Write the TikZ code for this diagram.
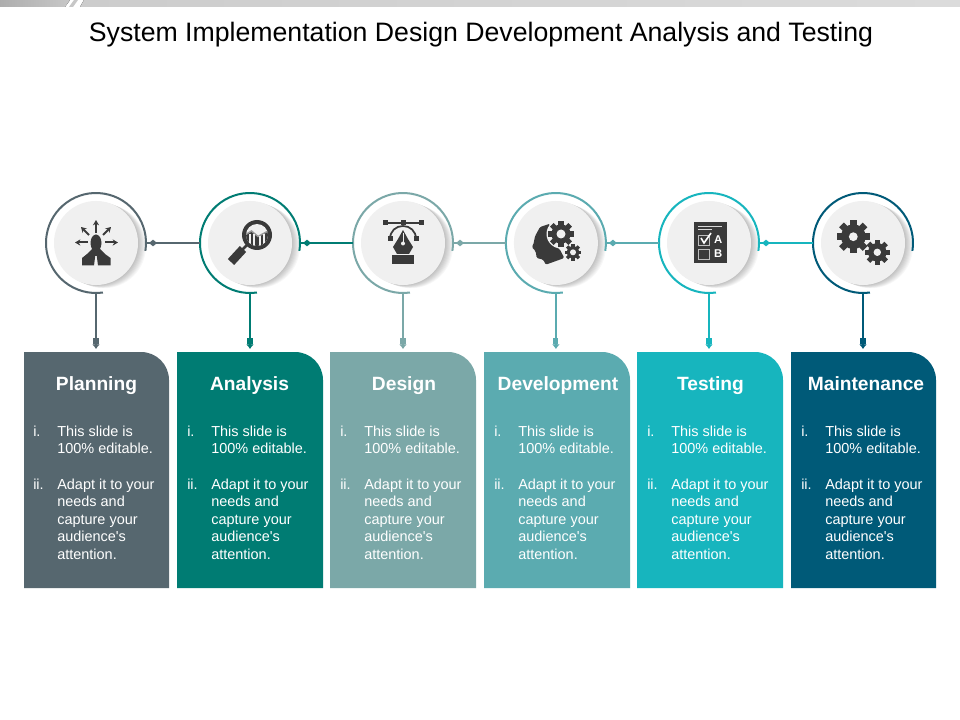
\documentclass[tikz,border=0pt]{standalone}
\usepackage{fontspec}
\setmainfont{Liberation Sans}
\usetikzlibrary{arrows.meta}
\definecolor{cPlan}{HTML}{56676F}
\definecolor{cAna}{HTML}{007C73}
\definecolor{cDes}{HTML}{7BA8A8}
\definecolor{cDev}{HTML}{5BABB0}
\definecolor{cTest}{HTML}{17B5BE}
\definecolor{cMain}{HTML}{005A78}
\definecolor{iconDark}{HTML}{3A3A3A}
\definecolor{discFill}{HTML}{F0F0F0}
\tikzset{
  ringnode/.style={circle,minimum size=75pt,inner sep=0pt,outer sep=0pt},
  discshape/.style={fill=discFill},
  ringarc/.style={line width=1.5pt},
  linkline/.style={line width=1.3pt},
  droparrow/.style={line width=1.3pt,-{Rectangle[length=5pt,width=3.8pt]Latex[length=3.6pt,width=6pt]},shorten >=2.2pt},
  linkmark/.style={line width=2.2pt,-{Diamond[length=6pt,width=5pt]}},
  boxnode/.style={minimum width=109.5pt,minimum height=177pt,inner sep=0pt,outer sep=0pt,anchor=north west},
  headtext/.style={text=white,font=\fontsize{14.4}{17}\selectfont\bfseries,anchor=base,inner sep=0pt},
  bodytext/.style={text=white,font=\fontsize{10.85}{13.2}\selectfont,anchor=base west,inner sep=0pt},
  icon/.style={fill=iconDark},
  iconarrow/.style={draw=iconDark,line width=1.5pt,-{Stealth[length=4pt,width=4.6pt]}},
}
\newcommand{\gearshape}[5]{% x y R hole toothwidth
  \fill[icon] (#1,#2) circle[radius=#3*0.74];
  \foreach \a in {0,45,...,315}
    \draw[iconDark,line width=#5] (#1,#2)++(\a:#3*0.6) -- ++(\a:#3*0.4);
  \fill[discFill] (#1,#2) circle[radius=#4];
}
\begin{document}
\begin{tikzpicture}[x=0.75pt,y=-0.75pt]
\useasboundingbox (0,0) rectangle (960,720);
\fill[white] (0,0) rectangle (960,720);
% top bar
\fill[left color=black!32,right color=black!22] (0,0) -- (70,0) -- (65,7) -- (0,7) -- cycle;
\fill[black!22] (74,0) -- (78,0) -- (73,7) -- (69,7) -- cycle;
\fill[left color=black!20,right color=black!14] (84,0) -- (960,0) -- (960,7) -- (80,7) -- cycle;
\node[inner sep=0pt,font=\fontsize{20}{24}\selectfont,text=black] (title) at (481,34.5) {System Implementation Design Development Analysis and Testing};
% boxes
\foreach \i/\bx/\bw/\hx/\tx/\col/\name in {1/24/145/96.5/57/cPlan/Planning,2/177/146/249.5/211/cAna/Analysis,3/330/146/404/364/cDes/Design,4/484/146/558/518/cDev/Development,5/637/146/710.5/671/cTest/Testing,6/791/145/866/825/cMain/Maintenance}{
  \fill[\col] (\bx,588) -- (\bx,352) [rounded corners=21pt] -- ({\bx+\bw},352) [sharp corners] -- ({\bx+\bw},588) -- cycle;
  \node[boxnode] (box\i) at (\bx,352) {};
  \node[headtext] (head\i) at (\hx,390) {\name};
  \node[bodytext] (la\i) at ({\tx-24},436) {i.};
  \node[bodytext] (ta\i) at (\tx,436) {This slide is};
  \node[bodytext] (tb\i) at (\tx,453.5) {100\% editable.};
  \node[bodytext] (lb\i) at ({\tx-24},489) {ii.};
  \node[bodytext] (tc\i) at (\tx,489) {Adapt it to your};
  \node[bodytext] (td\i) at (\tx,506.5) {needs and};
  \node[bodytext] (te\i) at (\tx,524) {capture your};
  \node[bodytext] (tf\i) at (\tx,541.5) {audience\textquotesingle s};
  \node[bodytext] (tg\i) at (\tx,559) {attention.};
}
% discs and rings
\foreach \i/\cx/\col in {1/96/cPlan,2/250/cAna,3/403/cDes,4/555.9/cDev,5/709/cTest,6/863/cMain}{
  \foreach \o in {1,...,8}
    \fill[black,opacity=0.03] ({\cx+\o*1.0},{243+\o*0.4}) circle[radius=42];
  \fill[discshape] (\cx,243) circle[radius=42];
  \node[ringnode] (r\i) at (\cx,243) {};
  \draw[\col,ringarc] (\cx,243) ++(9:50) arc[start angle=9,end angle=-278,radius=50];
}
% connectors
\foreach \i/\j/\col in {1/2/cPlan,2/3/cAna,3/4/cDes,4/5/cDev,5/6/cTest}{
  \draw[\col,linkline] (r\i.east) -- (r\j.west);
  \draw[\col,linkmark] (r\i.east) -- ++(11,0);
}
\foreach \i/\col in {1/cPlan,2/cAna,3/cDes,4/cDev,5/cTest,6/cMain}{
  \draw[\col,droparrow] (r\i.south) -- (r\i.south |- box\i.north);
}
% icon 1: person with arrows
\draw[iconarrow] (96,233) -- (96,220);
\draw[iconarrow] (88,242.5) -- (75,242.5);
\draw[iconarrow] (105,242.5) -- (118,242.5);
\draw[iconarrow] (89,235) -- (81,227);
\draw[iconarrow] (103,235) -- (111,227);
\fill[icon] (96,243) ellipse[x radius=5.5,y radius=8.5];
\fill[icon] (82,265.5) -- (82,258) -- (87,254) -- (92,249) -- (100,249) -- (105,254) -- (110.5,258) -- (110.5,265.5) -- (98,265.5) -- (96.8,256) -- (95.2,256) -- (94,265.5) -- cycle;
% icon 2: magnifier
\draw[iconDark,line width=2pt] (247,245) -- (241,251);
\draw[iconDark,line width=6.5pt] (243,249) -- (231,262);
\fill[icon] (257,235) circle[radius=15];
\begin{scope}
  \clip (257,235) circle[radius=11];
  \fill[discFill] (244,222) rectangle (270,248);
  \fill[icon] (244,248) -- (244,235) -- (251.5,231) -- (258,236.5) -- (268,231) -- (270,248) -- cycle;
  \draw[black!40,line width=1.1pt] (245,235) -- (251.5,231) -- (258,236.5) -- (268,231);
  \draw[discFill,line width=1.2pt] (250,234) -- (250,246) (254,234) -- (254,246) (260,236.5) -- (260,246) (264,234.5) -- (264,246);
\end{scope}
% icon 3: pen tool
\draw[iconDark,line width=.9pt] (385,223) -- (421,223);
\draw[iconDark,line width=1.3pt] (390,239) .. controls (390,231) and (396,226) .. (403,226) .. controls (410,226) and (416,231) .. (416,239);
\fill[icon] (382.5,220.5) rectangle (387.5,225.5);
\fill[icon] (400.5,220.5) rectangle (405.5,225.5);
\fill[icon] (418.5,220.5) rectangle (423.5,225.5);
\fill[icon] (387.5,236.5) rectangle (392.5,241.5);
\fill[icon] (413.5,236.5) rectangle (418.5,241.5);
\fill[icon] (403,230) -- (408,239) -- (413,247) -- (409,254) -- (397,254) -- (393,247) -- (398,239) -- cycle;
\fill[icon] (392,255.5) rectangle (413.5,264);
\draw[discFill,line width=.6pt] (403,233) -- (403,243);
\fill[discFill] (403,243.5) circle[radius=2];
% icon 4: head with gears
\fill[icon,rounded corners=1pt] (550,223.7) -- (540,227) -- (535,236.3) -- (533.3,244.7) -- (531.7,247) -- (535.7,251.3) -- (536.7,258) -- (543.3,259.7) -- (545.7,264.7) -- (564.3,258) -- (560,249.7) -- (551.7,243) -- (547.7,234.7) -- cycle;
\fill[discFill] (561,234) circle[radius=14.5];
\fill[discFill] (573,252.3) circle[radius=9.5];
\gearshape{561}{234}{13}{4.5}{3.8pt}
\gearshape{573}{252.3}{8.3}{3}{2.5pt}
% icon 5: test sheet
\fill[icon] (694,222) rectangle (727,263);
\draw[white!85!black,line width=.4pt] (698,226.7) -- (722,226.7) (698,229) -- (712,229);
\draw[black!25,line width=.7pt] (698.3,235) rectangle (709,245);
\draw[black!25,line width=.7pt] (698.3,249) rectangle (709,259);
\draw[white,line width=1.2pt] (701,238) -- (704,243) -- (711,233);
\node[inner sep=0pt,text=white,font=\fontsize{8.5}{10}\selectfont\bfseries] (optA) at (718.3,239.5) {A};
\node[inner sep=0pt,text=white,font=\fontsize{8.5}{10}\selectfont\bfseries] (optB) at (718.3,253.5) {B};
% icon 6: gears
\gearshape{853.3}{236.7}{16.7}{4.4}{5pt}
\gearshape{877.3}{252.3}{12.5}{3.7}{3.8pt}
\end{tikzpicture}
\end{document}
